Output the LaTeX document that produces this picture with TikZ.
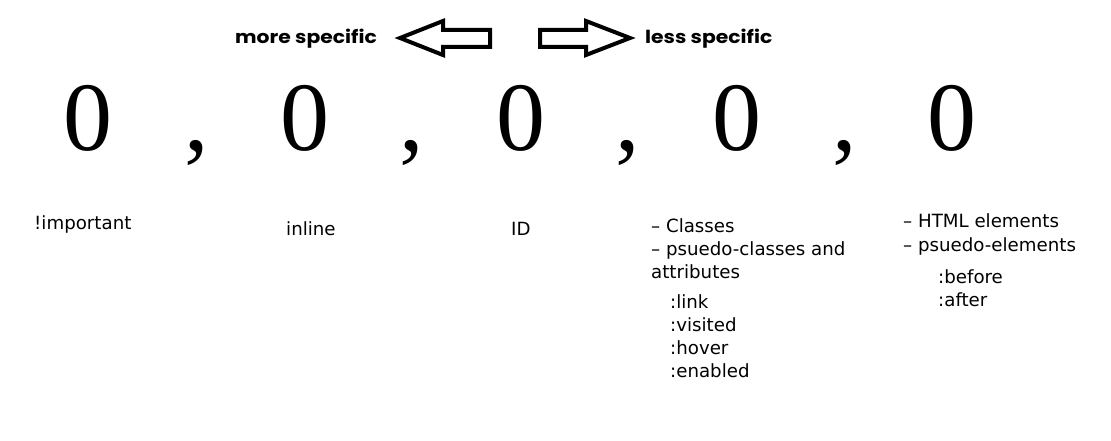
\documentclass[tikz,border=0pt]{standalone}
\usepackage{fontspec}
\setmainfont{DejaVu Sans}
\newfontfamily\digitfont{Liberation Serif}
\newfontfamily\headfont{Poppins}[BoldFont={* Bold},FakeStretch=1.13]
\begin{document}
\begin{tikzpicture}[x=1pt,y=-1pt,
  lbl/.style={inner sep=0pt,anchor=base west,font=\fontsize{18.2}{23}\selectfont},
  head/.style={inner sep=0pt,anchor=base west,font=\headfont\bfseries\fontsize{18}{20}\selectfont},
  digit/.style={inner sep=0pt,anchor=base,font=\digitfont\fontsize{98}{100}\selectfont},
  bigarrow/.style={draw=black,line width=4pt,line join=miter,fill=white}]
\useasboundingbox[fill=white] (0,0) rectangle (1111,441);
% header
\node[head] (more) at (235,44) {more specific};
\node[head] (less) at (645,44) {less specific};
\draw[bigarrow] (400,38) -- (443,21) -- (443,30) -- (490,30) -- (490,47) -- (443,47) -- (443,55) -- cycle;
\draw[bigarrow] (630,38) -- (586,21) -- (586,30) -- (540,30) -- (540,47) -- (586,47) -- (586,55) -- cycle;
% digits
\node[digit] (d1) at (88,150) {0};
\node[digit] (c1) at (197,150) {,};
\node[digit] (d2) at (305,150) {0};
\node[digit] (c2) at (412,150) {,};
\node[digit] (d3) at (521,150) {0};
\node[digit] (c3) at (628,150) {,};
\node[digit] (d4) at (737,150) {0};
\node[digit] (c4) at (845,150) {,};
\node[digit] (d5) at (952,150) {0};
% labels
\node[lbl] (l1) at (34,229) {!important};
\node[lbl] (l2) at (286,235) {inline};
\node[lbl] (l3) at (511,235) {ID};
\node[lbl] (l4a) at (651,232) {– Classes};
\node[lbl] (l4b) at (651,255) {– psuedo-classes and};
\node[lbl] (l4c) at (651,278) {attributes};
\node[lbl] (l4d) at (670,308) {:link};
\node[lbl] (l4e) at (670,331) {:visited};
\node[lbl] (l4f) at (670,354) {:hover};
\node[lbl] (l4g) at (670,377) {:enabled};
\node[lbl] (l5a) at (903,227) {– HTML elements};
\node[lbl] (l5b) at (903,251) {– psuedo-elements};
\node[lbl] (l5c) at (938,283) {:before};
\node[lbl] (l5d) at (938,306) {:after};
\end{tikzpicture}
\end{document}
